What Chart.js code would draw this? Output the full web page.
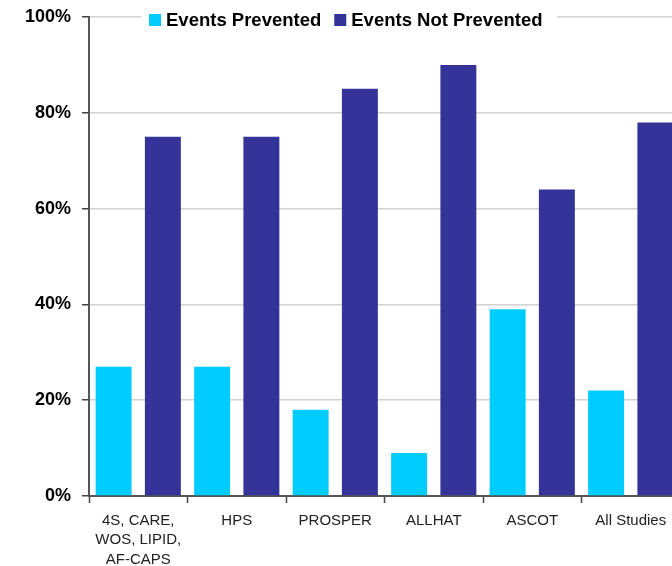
<!DOCTYPE html>
<html>
<head>
<meta charset="utf-8">
<script src="https://cdn.jsdelivr.net/npm/chart.js@4/dist/chart.umd.min.js"></script>
<style>
  html, body { margin: 0; padding: 0; background: #fff; overflow: hidden; }
  #wrap { width: 690px; height: 566px; }
</style>
</head>
<body>
<div id="wrap"><canvas id="c" width="690" height="566"></canvas></div>
<script>
const categories = [['4S, CARE,', 'WOS, LIPID,', 'AF-CAPS'], 'HPS', 'PROSPER', 'ALLHAT', 'ASCOT', 'All Studies'];
const eventsPrevented = [27, 27, 18, 9, 39, 22];
const eventsNotPrevented = [75, 75, 85, 90, 64, 78];
const yTicks = [0, 20, 40, 60, 80, 100];
const seriesNames = ['Events Prevented', 'Events Not Prevented'];
const seriesColors = ['#00CCFF', '#333399'];

const overlayLegend = {
  id: 'overlayLegend',
  afterDraw(chart) {
    const ctx = chart.ctx;
    const area = chart.chartArea;
    const y = area.top + 3;
    ctx.save();
    ctx.fillStyle = '#ffffff';
    ctx.fillRect(141, area.top - 10, 416, 24);
    ctx.font = 'bold 18.5px "Liberation Sans", Arial, sans-serif';
    ctx.textBaseline = 'middle';
    let x = 149;
    chart.data.datasets.forEach((ds, i) => {
      ctx.fillStyle = ds.backgroundColor;
      ctx.fillRect(x, y - 6, 12, 12);
      x += 17;
      ctx.fillStyle = '#000000';
      ctx.fillText(ds.label, x, y + 1);
      x += ctx.measureText(ds.label).width + 13;
    });
    ctx.restore();
  }
};

new Chart(document.getElementById('c'), {
  type: 'bar',
  data: {
    labels: categories,
    datasets: [
      { label: seriesNames[0], data: eventsPrevented, backgroundColor: seriesColors[0] },
      { label: seriesNames[1], data: eventsNotPrevented, backgroundColor: seriesColors[1] }
    ]
  },
  options: {
    responsive: false,
    animation: false,
    layout: { padding: { top: 17, right: 10, left: 0, bottom: 0 } },
    datasets: { bar: { categoryPercentage: 1.0, barPercentage: 0.73 } },
    plugins: {
      legend: { display: false },
      tooltip: { enabled: false }
    },
    scales: {
      x: {
        afterFit(scale) { scale.height = 70; scale.paddingLeft = 0; scale.paddingRight = 0; },
        grid: { offset: true, drawOnChartArea: false, tickLength: 7, tickColor: '#444', tickWidth: 1.5 },
        border: { color: '#555', width: 2 },
        ticks: {
          color: '#222',
          padding: 8,
          maxRotation: 0,
          autoSkip: false,
          font: { family: '"Liberation Sans", Arial, sans-serif', size: 15, lineHeight: 1.3 }
        }
      },
      y: {
        min: 0,
        max: 100,
        afterFit(scale) { scale.width = 89; scale.paddingTop = 0; scale.paddingBottom = 0; },
        afterBuildTicks(scale) { scale.ticks = yTicks.map(v => ({ value: v })); },
        grid: { color: '#d2d2d2', lineWidth: 1.5, tickLength: 7, tickColor: '#444', tickWidth: 1.5 },
        border: { color: '#555', width: 2 },
        ticks: {
          color: '#000',
          padding: 11,
          font: { family: '"Liberation Sans", Arial, sans-serif', size: 18, weight: 'bold' },
          callback: v => v + '%'
        }
      }
    }
  },
  plugins: [overlayLegend]
});
</script>
</body>
</html>
